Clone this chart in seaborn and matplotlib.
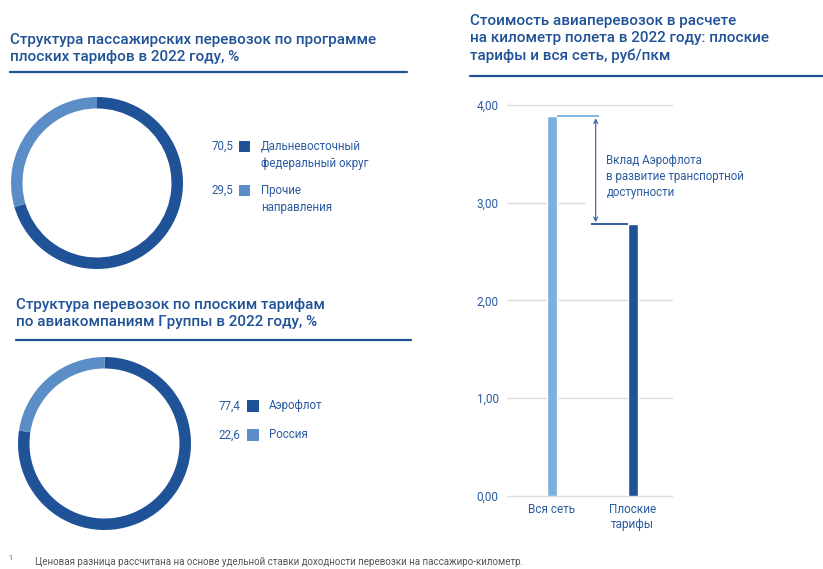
import matplotlib
matplotlib.use("Agg")
import matplotlib.pyplot as plt
from matplotlib.lines import Line2D
from matplotlib.patches import Rectangle
import seaborn as sns

# ---------------- data ----------------
donut1_labels = ["Дальневосточный\nфедеральный округ", "Прочие\nнаправления"]
donut1_values = [70.5, 29.5]
donut2_labels = ["Аэрофлот", "Россия"]
donut2_values = [77.4, 22.6]
bar_categories = ["Вся сеть", "Плоские\nтарифы"]
bar_values = [3.88, 2.78]
y_ticks = [0.0, 1.0, 2.0, 3.0, 4.0]

title1 = "Структура пассажирских перевозок по программе\nплоских тарифов в 2022 году, %"
title2 = "Структура перевозок по плоским тарифам\nпо авиакомпаниям Группы в 2022 году, %"
title3 = "Стоимость авиаперевозок в расчете\nна километр полета в 2022 году: плоские\nтарифы и вся сеть, руб/пкм"
annot_text = "Вклад Аэрофлота\nв развитие транспортной\nдоступности"
footnote = "Ценовая разница рассчитана на основе удельной ставки доходности перевозки на пассажиро-километр."

# ---------------- style ----------------
DARK = "#1f5296"
LIGHT_DONUT = "#5b8dc6"
LIGHT_BAR = "#7ab0dd"
TITLE_C = "#1f5296"
TEXT_C = "#2a5aa0"
GRID_C = "#dedede"

sns.set_theme(style="white")
plt.rcParams["font.family"] = ["Roboto", "DejaVu Sans"]

W, H = 823, 569
fig = plt.figure(figsize=(W / 100, H / 100), dpi=100)
fig.patch.set_facecolor("white")


def fx(px):
    return px / W


def fy(py):
    return 1 - py / H


def fmt(v):
    return f"{v:.1f}".replace(".", ",")


# ---------------- titles ----------------
def title(x, y, text, x_end, y_line):
    fig.text(fx(x), fy(y), text, ha="left", va="top", fontsize=11,
             fontweight="medium", color=TITLE_C, linespacing=1.3)
    fig.add_artist(Line2D([fx(x), fx(x_end)], [fy(y_line), fy(y_line)],
                          color=TITLE_C, lw=1.6, transform=fig.transFigure))


title(10, 33, title1, 407, 72)
title(16, 298, title2, 411, 340)
title(470, 14, title3, 823, 76)


# ---------------- donuts ----------------
def donut(cx, cy, r, values):
    ax = fig.add_axes([fx(cx - r), fy(cy + r), 2 * r / W, 2 * r / H])
    ax.pie(values, colors=[DARK, LIGHT_DONUT], startangle=90, counterclock=False,
           radius=1, wedgeprops=dict(width=11.5 / r, linewidth=0))
    ax.set_xlim(-1, 1)
    ax.set_ylim(-1, 1)
    ax.set_aspect("auto")
    ax.axis("off")


donut(97, 183, 86, donut1_values)
donut(104.5, 443.5, 86.5, donut2_values)


# ---------------- donut legends ----------------
def legend(x_num, x_sq, x_lab, ys, values, labels, sq=11):
    cols = [DARK, LIGHT_DONUT]
    for y, v, lab, c in zip(ys, values, labels, cols):
        fig.text(fx(x_num), fy(y), fmt(v), ha="right", va="center",
                 fontsize=8.3, color=TEXT_C)
        fig.add_artist(Rectangle((fx(x_sq), fy(y + sq / 2)), sq / W, sq / H,
                                 color=c, transform=fig.transFigure, lw=0))
        fig.text(fx(x_lab), fy(y - 6.5), lab, ha="left", va="top",
                 fontsize=8.3, color=TEXT_C, linespacing=1.45)


legend(233, 239, 261, [146, 190], donut1_values, donut1_labels, sq=11)
legend(240, 247, 269, [406, 435], donut2_values, donut2_labels, sq=12)

# ---------------- bar chart ----------------
ax_l, ax_r = 507, 672
y0_px, y4_px = 496, 104.7
ax = fig.add_axes([fx(ax_l), fy(y0_px), (ax_r - ax_l) / W, (y0_px - y4_px) / H])
bw = 0.123
sns.barplot(x=bar_categories, y=bar_values, hue=bar_categories,
            palette=[LIGHT_BAR, DARK], width=bw, legend=False,
            saturation=1, ax=ax, zorder=3)
ax.set_xlim(-0.552, 1.485)
ax.set_ylim(0, 4)
for s in ax.spines.values():
    s.set_visible(False)

for t in y_ticks:
    xmax = 0.47 if t == 3.0 else 1.0
    ax.axhline(t, xmin=0, xmax=xmax, color=GRID_C, lw=1, zorder=1, clip_on=False)

ax.set_yticks(y_ticks)
ax.set_yticklabels([f"{t:.2f}".replace(".", ",") for t in y_ticks])
ax.tick_params(axis="y", length=0, pad=6, labelsize=8.5, labelcolor=TEXT_C)
ax.tick_params(axis="x", length=0, pad=5, labelsize=8.5, labelcolor=TEXT_C)
for lab in ax.get_xticklabels():
    lab.set_linespacing(1.2)
    lab.set_verticalalignment("top")
ax.set_xlabel("")
ax.set_ylabel("")

# horizontal extensions at bar tops
ax.plot([0 + bw / 2, 0.584], [bar_values[0], bar_values[0]], color=LIGHT_BAR,
        lw=1.3, zorder=3, clip_on=False, solid_capstyle="butt")
ax.plot([0.485, 1 - bw / 2], [bar_values[1], bar_values[1]], color=DARK,
        lw=1.3, zorder=3, clip_on=False, solid_capstyle="butt")
ax.annotate("", xy=(0.543, bar_values[1] + 0.02), xytext=(0.543, bar_values[0] - 0.02),
            arrowprops=dict(arrowstyle="<->", color=TEXT_C, lw=0.8,
                            mutation_scale=7, shrinkA=0, shrinkB=0),
            annotation_clip=False)
fig.text(fx(606.5), fy(154), annot_text, ha="left", va="top", fontsize=8.3,
         color=TEXT_C, linespacing=1.3)

# ---------------- footnote ----------------
fig.text(fx(8), fy(558), "1", fontsize=5, color="#555555", ha="left", va="center")
fig.text(fx(35), fy(562), footnote, fontsize=7, color="#555555", ha="left", va="center")

fig.savefig("out.png", dpi=100, facecolor="white")
